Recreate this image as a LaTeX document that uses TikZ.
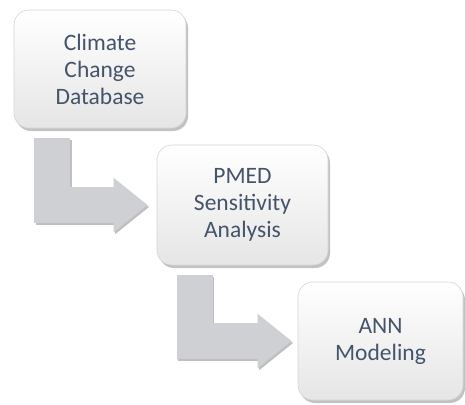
\documentclass[tikz,border=0pt]{standalone}
\usepackage{fontspec}
\setmainfont{Carlito}
\usetikzlibrary{arrows.meta,shadows,backgrounds}

\definecolor{textslate}{HTML}{44546A}
\definecolor{flowgray}{HTML}{CFD0D4}
\definecolor{boxedge}{HTML}{D4D4D4}

\begin{document}
\begin{tikzpicture}[x=1pt, y=-1pt,
  every node/.style = {shape=rectangle, rounded corners=15pt,
    draw=boxedge, line width=0.6pt, align=center,
    text=textslate, font=\fontsize{23.5}{27}\selectfont,
    top color=white, bottom color=black!10,
    drop shadow={shadow xshift=2pt, shadow yshift=-3pt,
      opacity=0.4, fill=black!60}},
  flow/.style = {line width=36pt, draw=flowgray,
    -{Triangle[width=52pt, length=34pt]}},
  flowshadow/.style = {line width=36pt, draw=black!25,
    -{Triangle[width=52pt, length=34pt]}}]
  \useasboundingbox (0,0) rectangle (465,404);
  \node[minimum width=172pt, minimum height=118pt] (db) at (100,69)
    {Climate\\Change\\Database};
  \node[minimum width=171pt, minimum height=120pt] (pmed) at (242.5,205)
    {PMED\\Sensitivity\\Analysis};
  \node[minimum width=165pt, minimum height=118pt] (ann) at (380.5,341)
    {ANN\\Modeling};
  % block arrows between the steps
  \begin{pgfonlayer}{background}
    \draw[flowshadow, transform canvas={shift={(1.5pt,-2pt)}}]
      ([xshift=-48pt, yshift=-10pt]db.south) |- ([xshift=-9pt]pmed.west);
    \draw[flow] ([xshift=-48pt, yshift=-10pt]db.south) |- ([xshift=-9pt]pmed.west);
    \draw[flowshadow, transform canvas={shift={(1.5pt,-2pt)}}]
      ([xshift=-48pt, yshift=-10pt]pmed.south) |- ([xshift=-6pt]ann.west);
    \draw[flow] ([xshift=-48pt, yshift=-10pt]pmed.south) |- ([xshift=-6pt]ann.west);
  \end{pgfonlayer}
\end{tikzpicture}
\end{document}
